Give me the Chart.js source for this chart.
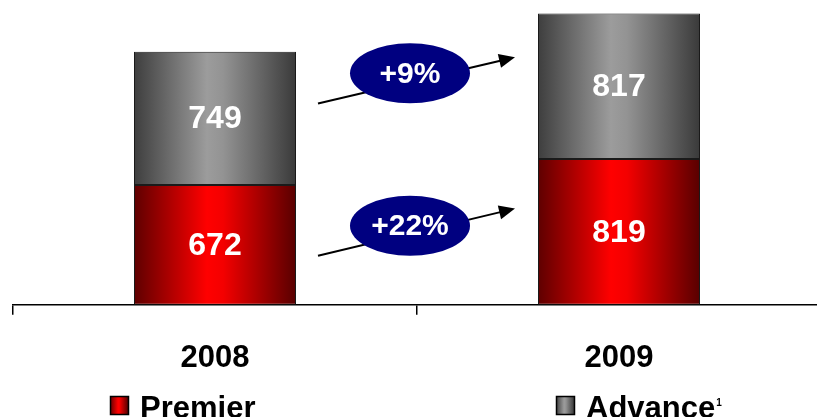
<!DOCTYPE html>
<html>
  <head>
    <script src="https://cdn.jsdelivr.net/npm/chart.js"></script>
    <style>
      body { margin: 0; background: #fff; overflow: hidden; }
      #wrap { width: 821px; height: 417px; }
    </style>
  </head>
  <body>
    <div id="wrap"><canvas id="revenue-chart"></canvas></div>
    <script>
      var years = ['2008', '2009'];
      var premier = [672, 819];
      var advance = [749, 817];
      var growthLabels = ['+22%', '+9%'];
      var seriesNames = ['Premier', 'Advance'];

      var FONT = 'Arial, "Liberation Sans", sans-serif';
      var BAR_PCT = 0.401;

      var redStops = [[0, '#5e0000'], [0.45, '#ff0000'], [0.55, '#f40000'], [1, '#580000']];
      var greyStops = [[0, '#3e3e3e'], [0.45, '#9c9c9c'], [0.55, '#939393'], [1, '#3a3a3a']];

      function hGradient(ctx, x0, x1, stops) {
        var g = ctx.createLinearGradient(x0, 0, x1, 0);
        stops.forEach(function(s) { g.addColorStop(s[0], s[1]); });
        return g;
      }

      function barFill(stops) {
        return function(c) {
          var chart = c.chart;
          var xs = chart.scales.x;
          if (!xs || !chart.chartArea) return stops[1][1];
          var half = xs.width / years.length * BAR_PCT / 2;
          var cx = xs.getPixelForValue(c.dataIndex);
          return hGradient(chart.ctx, cx - half, cx + half, stops);
        };
      }

      // values inside the bars
      var valueLabels = {
        id: 'valueLabels',
        afterDatasetsDraw: function(chart) {
          var ctx = chart.ctx;
          ctx.save();
          ctx.fillStyle = '#fff';
          ctx.font = 'bold 32px ' + FONT;
          ctx.textAlign = 'center';
          ctx.textBaseline = 'middle';
          chart.data.datasets.forEach(function(ds, i) {
            chart.getDatasetMeta(i).data.forEach(function(el, j) {
              ctx.fillText(ds.data[j], el.x, (el.y + el.base) / 2 + 1);
            });
          });
          ctx.restore();
        }
      };

      // growth arrows with ellipses between the bars
      var growthArrows = {
        id: 'growthArrows',
        afterDraw: function(chart) {
          var ctx = chart.ctx;
          var xs = chart.scales.x, ys = chart.scales.y;
          var half = xs.width / years.length * BAR_PCT / 2;
          var xStart = xs.getPixelForValue(0) + half + 22;
          var xEnd = xs.getPixelForValue(1) - half - 23;
          var spec = [
            { from: 275, to: 540, mid: 444, text: growthLabels[0] },
            { from: 1130, to: 1390, mid: 1300, text: growthLabels[1] }
          ];
          ctx.save();
          spec.forEach(function(s) {
            var y0 = ys.getPixelForValue(s.from), y1 = ys.getPixelForValue(s.to);
            var ang = Math.atan2(y1 - y0, xEnd - xStart);
            ctx.strokeStyle = '#000';
            ctx.lineWidth = 2;
            ctx.beginPath();
            ctx.moveTo(xStart, y0);
            ctx.lineTo(xEnd - 14 * Math.cos(ang), y1 - 14 * Math.sin(ang));
            ctx.stroke();
            ctx.fillStyle = '#000';
            ctx.beginPath();
            ctx.moveTo(xEnd, y1);
            ctx.lineTo(xEnd - 16 * Math.cos(ang) + 7 * Math.sin(ang), y1 - 16 * Math.sin(ang) - 7 * Math.cos(ang));
            ctx.lineTo(xEnd - 16 * Math.cos(ang) - 7 * Math.sin(ang), y1 - 16 * Math.sin(ang) + 7 * Math.cos(ang));
            ctx.closePath();
            ctx.fill();
            var cx = xs.getPixelForValue(0.5) - 7, cy = ys.getPixelForValue(s.mid);
            ctx.fillStyle = '#000080';
            ctx.beginPath();
            ctx.ellipse(cx, cy, 60, 30, 0, 0, Math.PI * 2);
            ctx.fill();
            ctx.fillStyle = '#fff';
            ctx.font = 'bold 30px ' + FONT;
            ctx.textAlign = 'center';
            ctx.textBaseline = 'middle';
            ctx.fillText(s.text, cx, cy + 1);
          });
          ctx.restore();
        }
      };

      // legend along the bottom
      var bottomLegend = {
        id: 'bottomLegend',
        afterDraw: function(chart) {
          var ctx = chart.ctx;
          var items = [
            { x: 110, stops: redStops, text: seriesNames[0], sup: false },
            { x: 556, stops: greyStops, text: seriesNames[1], sup: true }
          ];
          ctx.save();
          items.forEach(function(it) {
            ctx.fillStyle = hGradient(ctx, it.x, it.x + 18, it.stops);
            ctx.fillRect(it.x, 396, 18, 18);
            ctx.strokeStyle = '#000';
            ctx.lineWidth = 1.5;
            ctx.strokeRect(it.x + 0.5, 396.5, 18, 18);
            ctx.fillStyle = '#000';
            ctx.font = 'bold 31px ' + FONT;
            ctx.textAlign = 'left';
            ctx.textBaseline = 'alphabetic';
            ctx.fillText(it.text, it.x + 30, 418);
            if (it.sup) {
              var w = ctx.measureText(it.text).width;
              ctx.font = 'bold 10px ' + FONT;
              ctx.fillText('1', it.x + 31 + w, 406);
            }
          });
          ctx.restore();
        }
      };

      var ctx = document.getElementById('revenue-chart').getContext('2d');
      var revenueChart = new Chart(ctx, {
        type: 'bar',
        data: {
          labels: years,
          datasets: [{
            label: seriesNames[0],
            data: premier,
            backgroundColor: barFill(redStops),
            borderColor: '#1a1a1a',
            borderWidth: 1,
            borderSkipped: false,
            barPercentage: BAR_PCT,
            categoryPercentage: 1
          }, {
            label: seriesNames[1],
            data: advance,
            backgroundColor: barFill(greyStops),
            borderColor: '#1a1a1a',
            borderWidth: 1,
            borderSkipped: false,
            barPercentage: BAR_PCT,
            categoryPercentage: 1
          }]
        },
        options: {
          responsive: true,
          maintainAspectRatio: false,
          animation: false,
          layout: { padding: { left: 13, right: 0, top: 2, bottom: 15 } },
          plugins: {
            legend: { display: false },
            tooltip: { enabled: false }
          },
          scales: {
            x: {
              stacked: true,
              grid: {
                display: true,
                drawOnChartArea: false,
                drawTicks: true,
                tickLength: 10,
                color: '#000',
                lineWidth: 1.5
              },
              border: { display: true, color: '#000', width: 1.5 },
              ticks: {
                color: '#000',
                font: { family: FONT, size: 31, weight: 'bold' },
                padding: 25
              }
            },
            y: {
              stacked: true,
              display: false,
              min: 0,
              max: 1700
            }
          }
        },
        plugins: [valueLabels, growthArrows, bottomLegend]
      });
    </script>
  </body>
</html>
